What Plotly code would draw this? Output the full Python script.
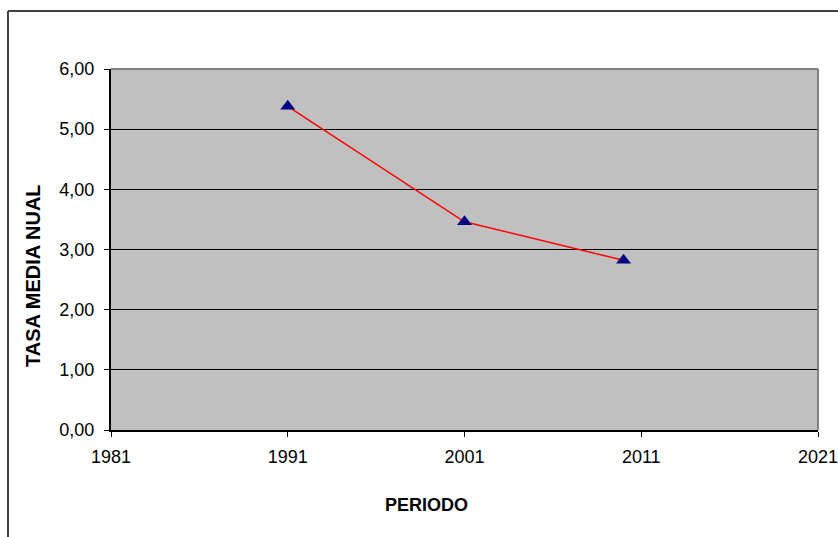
import plotly.graph_objects as go

years = [1991, 2001, 2010]
tasa = [5.38, 3.46, 2.82]
x_ticks = [1981, 1991, 2001, 2011, 2021]
y_ticks = [0, 1, 2, 3, 4, 5, 6]
x_title = "PERIODO"
y_title = "TASA MEDIA NUAL"

W, H = 838, 537
L, R, T, B = 111, 20, 69, 107
pw, ph = W - L - R, H - T - B

def px(x):
    return (x - L) / pw

def py(y):
    return (H - B - y) / ph

font = "Liberation Sans, Arial, sans-serif"

fig = go.Figure()
fig.add_trace(go.Scatter(
    x=years, y=tasa, mode="lines+markers",
    line=dict(color="#FF0000", width=1.5),
    marker=dict(symbol="triangle-up", size=13, color="#000080"),
    showlegend=False, cliponaxis=False,
))

fig.update_layout(
    width=W, height=H,
    margin=dict(l=L, r=R, t=T, b=B, autoexpand=False),
    paper_bgcolor="white",
    plot_bgcolor="#C0C0C0",
    separators=",.",
    font=dict(family=font, size=18, color="black"),
    xaxis=dict(
        range=[1981, 2021], tickvals=x_ticks, ticktext=[str(v) for v in x_ticks],
        showgrid=False, zeroline=False, automargin=False,
        showline=True, linecolor="black", linewidth=2,
        ticks="outside", ticklen=5, tickcolor="black", tickwidth=1,
        ticklabelstandoff=4, ticklabeloverflow="allow",
        tickfont=dict(family=font, size=18, color="black"),
    ),
    yaxis=dict(
        range=[0, 6], tickvals=y_ticks, tickformat=".2f",
        showgrid=True, gridcolor="black", gridwidth=1, zeroline=False, automargin=False,
        showline=True, linecolor="black", linewidth=2,
        ticks="outside", ticklen=5, tickcolor="black", tickwidth=1,
        ticklabelstandoff=6, ticklabeloverflow="allow",
        tickfont=dict(family=font, size=18, color="black"),
    ),
    shapes=[
        dict(type="line", xref="paper", yref="paper", x0=0, x1=1, y0=1, y1=1,
             line=dict(color="#808080", width=2), layer="above"),
        dict(type="line", xref="paper", yref="paper", x0=1, x1=1, y0=0, y1=1,
             line=dict(color="#808080", width=2), layer="above"),
        dict(type="line", xref="paper", yref="paper", x0=px(8), x1=px(8), y0=py(540), y1=py(11),
             line=dict(color="#404040", width=2)),
        dict(type="line", xref="paper", yref="paper", x0=px(8), x1=px(840), y0=py(11), y1=py(11),
             line=dict(color="#404040", width=2)),
    ],
    annotations=[
        dict(text=f"<b>{x_title}</b>", xref="paper", yref="paper", x=px(426), y=py(505),
             xanchor="center", yanchor="middle", showarrow=False,
             font=dict(family=font, size=18, color="black")),
        dict(text=f"<b>{y_title}</b>", xref="paper", yref="paper", x=px(33), y=py(276),
             xanchor="center", yanchor="middle", showarrow=False, textangle=-90,
             font=dict(family=font, size=20, color="black")),
    ],
)

fig.write_html(
    "out.html",
    config={"displayModeBar": False},
    post_script="document.body.style.margin='0';document.body.style.overflow='hidden';",
)
